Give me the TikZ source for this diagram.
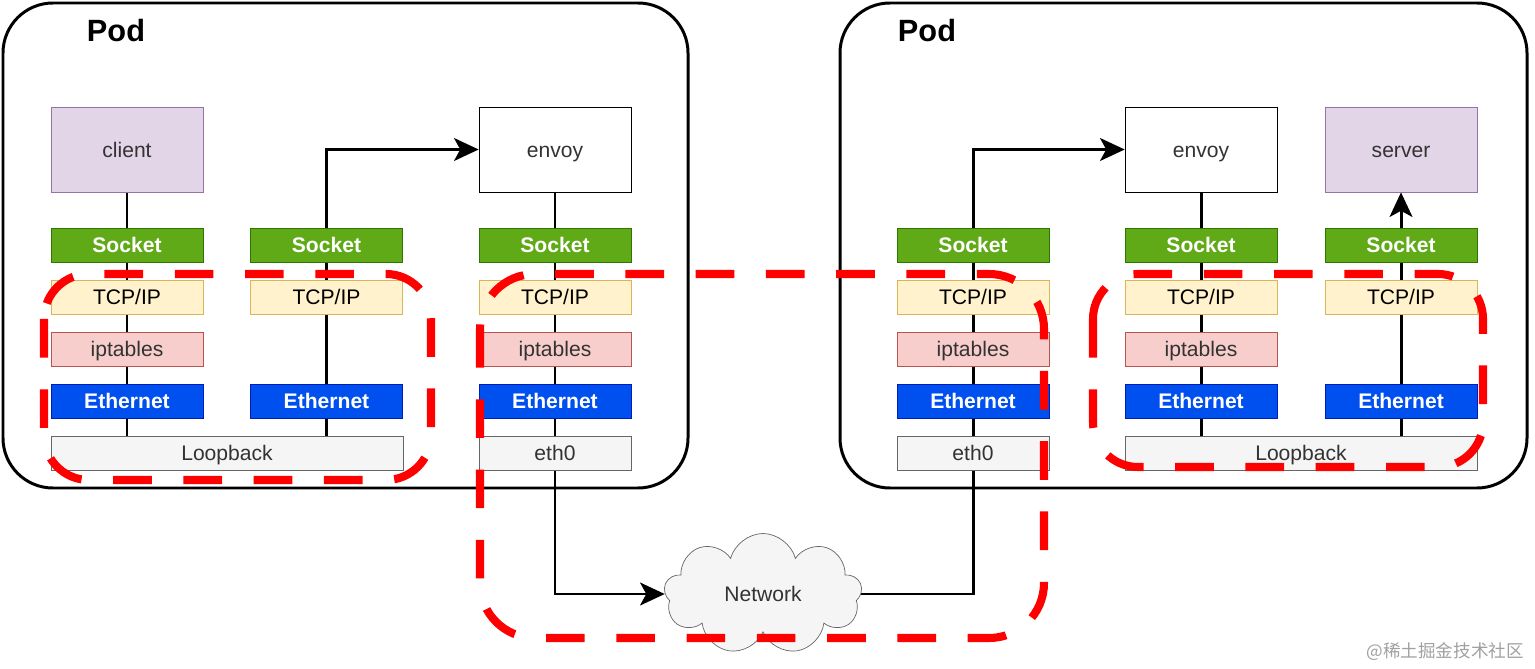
\documentclass[tikz,border=0pt]{standalone}
\usepackage{fontspec}
\setmainfont{Liberation Sans}
\newfontfamily\cjk{Noto Sans CJK SC}
\usepackage{tikz}
\usetikzlibrary{arrows.meta,shapes.symbols,backgrounds}
\definecolor{appfill}{HTML}{E1D5E7}
\definecolor{appdraw}{HTML}{9673A6}
\definecolor{sockfill}{HTML}{60A917}
\definecolor{sockdraw}{HTML}{2D7600}
\definecolor{tcpfill}{HTML}{FFF2CC}
\definecolor{tcpdraw}{HTML}{D6B656}
\definecolor{iptfill}{HTML}{F8CECC}
\definecolor{iptdraw}{HTML}{B85450}
\definecolor{ethfill}{HTML}{0050EF}
\definecolor{ethdraw}{HTML}{001DBC}
\definecolor{devfill}{HTML}{F5F5F5}
\definecolor{devdraw}{HTML}{666666}
\definecolor{devtext}{HTML}{333333}
\definecolor{markred}{HTML}{FF0000}
\definecolor{wmark}{HTML}{A0A0A0}
\tikzset{
	>={Stealth[length=14pt,width=13pt,inset=3.5pt]},
	pod/.style={draw=black, line width=1.7pt, rounded corners=1cm},
	podlabel/.style={font=\fontsize{17.5}{20}\selectfont\bfseries},
	layer/.style={draw, minimum width=3.04cm, minimum height=0.68cm, inner sep=0pt,
		text height=8.6pt, text depth=0pt, font=\fontsize{12}{14}\selectfont},
	app/.style={layer, minimum height=1.7cm, fill=appfill, draw=appdraw, text=devtext},
	proxy/.style={layer, minimum height=1.7cm, fill=white, draw=black, text=devtext},
	sock/.style={layer, fill=sockfill, draw=sockdraw, text=white,
		font=\fontsize{12}{14}\selectfont\bfseries},
	tcp/.style={layer, fill=tcpfill, draw=tcpdraw},
	ipt/.style={layer, fill=iptfill, draw=iptdraw, text=devtext},
	eth/.style={layer, fill=ethfill, draw=ethdraw, text=white,
		font=\fontsize{12}{14}\selectfont\bfseries},
	dev/.style={layer, fill=devfill, draw=devdraw, text=devtext},
	wire/.style={line width=1.7pt},
	net/.style={cloud, cloud puffs=9, aspect=1.6, draw=devdraw, fill=devfill,
		text=devtext, minimum width=3.96cm, minimum height=2.42cm,
		font=\fontsize{12}{14}\selectfont},
	redmark/.style={draw=markred, line width=4.6pt, dash pattern=on 22pt off 18pt,
		rounded corners=0.9cm}
}
\begin{document}
\begin{tikzpicture}[x=0.02cm, y=-0.02cm]
	\useasboundingbox (0,0) rectangle (1535,669);
	
	% the two pods
	\draw[pod] (3,3) rectangle (688,488);
	\draw[pod] (840,3) rectangle (1527,488);
	\node[podlabel] (podL) at (116,31) {Pod};
	\node[podlabel] (podR) at (927,31) {Pod};
	
	% left pod: client side
	\node[app]  (client) at (127,149.5) {client};
	\node[sock] (sockA)  at (127,245) {Socket};
	\node[tcp]  (tcpA)   at (127,297) {TCP/IP};
	\node[ipt]  (iptA)   at (127,349) {iptables};
	\node[eth]  (ethA)   at (127,401) {Ethernet};
	
	\node[sock] (sockB)  at (326.5,245) {Socket};
	\node[tcp]  (tcpB)   at (326.5,297) {TCP/IP};
	\node[eth]  (ethB)   at (326.5,401) {Ethernet};
	\node[dev, minimum width=7.04cm] (loopL) at (227,453) {Loopback};
	
	% left pod: envoy
	\node[proxy] (envoyL) at (555,149.5) {envoy};
	\node[sock] (sockC)  at (555,245) {Socket};
	\node[tcp]  (tcpC)   at (555,297) {TCP/IP};
	\node[ipt]  (iptC)   at (555,349) {iptables};
	\node[eth]  (ethC)   at (555,401) {Ethernet};
	\node[dev]  (eth0L)  at (555,453) {eth0};
	
	% right pod: envoy
	\node[sock] (sockD)  at (973,245) {Socket};
	\node[tcp]  (tcpD)   at (973,297) {TCP/IP};
	\node[ipt]  (iptD)   at (973,349) {iptables};
	\node[eth]  (ethD)   at (973,401) {Ethernet};
	\node[dev]  (eth0R)  at (973,453) {eth0};
	
	\node[proxy] (envoyR) at (1201,149.5) {envoy};
	\node[sock] (sockE)  at (1201,245) {Socket};
	\node[tcp]  (tcpE)   at (1201,297) {TCP/IP};
	\node[ipt]  (iptE)   at (1201,349) {iptables};
	\node[eth]  (ethE)   at (1201,401) {Ethernet};
	
	% right pod: server side
	\node[app]  (server) at (1401,149.5) {server};
	\node[sock] (sockF)  at (1401,245) {Socket};
	\node[tcp]  (tcpF)   at (1401,297) {TCP/IP};
	\node[eth]  (ethF)   at (1401,401) {Ethernet};
	\node[dev, minimum width=7.04cm] (loopR) at (1301,453) {Loopback};
	
	% network between the pods
	\node[net] (net) at (763,594) {Network};
	
	% connectors behind the stacks
	\begin{scope}[on background layer]
		\draw[wire] (client.south) -- (client.south |- loopL.north);
		\draw[wire,->] (sockB |- loopL.north) |- (envoyL.west);
		\draw[wire,->] (envoyL.south) |- (net.west);
		\coordinate (turnR) at (sockD |- envoyR.west);
		\draw[wire,->] (net.east) -| (turnR) -- (envoyR.west);
		\draw[wire] (envoyR.south) -- (envoyR.south |- loopR.north);
		\draw[wire,->] (sockF |- loopR.north) -- (server.south);
	\end{scope}
	
	% red dashed marks
	\draw[redmark] (44,274) rectangle (431,480);
	\draw[redmark, rounded corners=1.1cm] (480,274) rectangle (1044,638);
	\draw[redmark] (1093,274) rectangle (1483,467);
	
	% watermark
	\node[text=wmark, font=\cjk\fontsize{10}{12}\selectfont, anchor=east] (wm) at (1530,652) {@稀土掘金技术社区};
	
\end{tikzpicture}
\end{document}
